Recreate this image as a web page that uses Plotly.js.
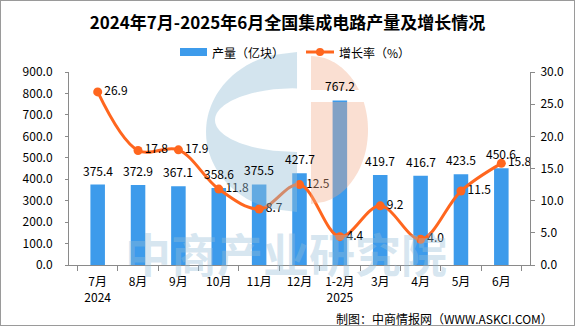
<!DOCTYPE html>
<html>
<head>
<meta charset="utf-8">
<script src="https://cdn.plot.ly/plotly-3.0.1.min.js"></script>
<style>
  html, body { margin: 0; padding: 0; background: #fff; }
  #wrap { position: relative; width: 575px; height: 326px; }
  #chart { width: 575px; height: 326px; }
  #frame { position: absolute; left: 0; top: 0; width: 575px; height: 326px; box-sizing: border-box; border: 1px solid #9a9a9a; pointer-events: none; }
</style>
</head>
<body>
<div id="wrap"><div id="chart"></div><div id="frame"></div></div>
<script>
// ---- data ----
const categories = ['7月<br>2024', '8月', '9月', '10月', '11月', '12月', '1-2月<br>2025', '3月', '4月', '5月', '6月'];
const production = [375.4, 372.9, 367.1, 358.6, 375.5, 427.7, 767.2, 419.7, 416.7, 423.5, 450.6];
const growth = [26.9, 17.8, 17.9, 11.8, 8.7, 12.5, 4.4, 9.2, 4.0, 11.5, 15.8];
const leftTicks = [0, 100, 200, 300, 400, 500, 600, 700, 800, 900];
const rightTicks = [0, 5, 10, 15, 20, 25, 30];

const seriesNames = ['产量（亿块）', '增长率（%）'];
const titleText = '2024年7月-2025年6月全国集成电路产量及增长情况';
const sourceText = '制图：中商情报网（WWW.ASKCI.COM）';
const watermarkText = '中商产业研究院';

// ---- style ----
const BAR = '#3D9BEB';
const LINE = '#FF661E';
const AXIS = '#8a8a8a';
const FONT = '"Noto Sans CJK SC", "Noto Sans", sans-serif';

const W = 575, H = 326;
const M = { l: 69, r: 45, t: 72, b: 61 };
const PW = W - M.l - M.r, PH = H - M.t - M.b;
// pixel -> paper helpers (for decoration only)
const px = x => (x - M.l) / PW;
const py = y => (H - M.b - y) / PH;
const P = (p) => px(p[0]).toFixed(4) + ',' + py(p[1]).toFixed(4);

function arc(cx, cy, rx, ry, y1, y2, side) {
  const pts = [];
  const n = 48;
  for (let i = 0; i <= n; i++) {
    const y = y1 + (y2 - y1) * i / n;
    const t = (y - cy) / ry;
    const x = cx + side * rx * Math.sqrt(Math.max(0, 1 - t * t));
    pts.push([x, y]);
  }
  return pts;
}
function pathOf(pts) { return 'M' + pts.map(P).join('L') + 'Z'; }

// logo watermark geometry
const outer = arc(297, 132, 91, 80, 52, 212, -1);
const inner = arc(297, 120, 82, 32, 88, 152, -1);
const salU = arc(311, 130, 57, 74, 56, 90, 1).concat([[311, 90]]);
const salL = [[311, 102]].concat(arc(311, 130, 57, 74, 102, 204, 1));

const shapes = [
  { type: 'path', xref: 'paper', yref: 'paper', path: pathOf(outer) + ' ' + pathOf(inner), fillrule: 'evenodd',
    fillcolor: 'rgb(150,190,215)', opacity: 0.42, line: { width: 0 }, layer: 'above' },
  { type: 'path', xref: 'paper', yref: 'paper', path: pathOf(salU), fillcolor: 'rgb(242,172,137)', opacity: 0.38, line: { width: 0 }, layer: 'above' },
  { type: 'path', xref: 'paper', yref: 'paper', path: pathOf(salL), fillcolor: 'rgb(242,172,137)', opacity: 0.38, line: { width: 0 }, layer: 'above' },
  // custom legend
  { type: 'rect', xref: 'paper', yref: 'paper', x0: px(180), x1: px(207), y0: py(56), y1: py(48), fillcolor: BAR, line: { width: 0 } },
  { type: 'line', xref: 'paper', yref: 'paper', x0: px(306), x1: px(334), y0: py(52), y1: py(52), line: { color: LINE, width: 3 } },
  { type: 'circle', xref: 'paper', yref: 'paper', x0: px(316), x1: px(324), y0: py(56), y1: py(48), fillcolor: LINE, line: { width: 0 } }
];

const annotations = [];
// bar value labels
categories.forEach((c, i) => {
  annotations.push({ x: c, y: production[i], xref: 'x', yref: 'y', text: production[i].toFixed(1),
    showarrow: false, yanchor: 'bottom', yshift: 4, font: { family: FONT, size: 12, color: '#000' } });
});
annotations.push(
  { xref: 'paper', yref: 'paper', x: px(210), y: py(52), xanchor: 'left', yanchor: 'middle', text: seriesNames[0], showarrow: false, font: { family: FONT, size: 12, color: '#000' } },
  { xref: 'paper', yref: 'paper', x: px(337), y: py(52), xanchor: 'left', yanchor: 'middle', text: seriesNames[1], showarrow: false, font: { family: FONT, size: 12, color: '#000' } },
  { xref: 'paper', yref: 'paper', x: px(555), y: py(318), xanchor: 'right', yanchor: 'middle', text: sourceText, showarrow: false, font: { family: FONT, size: 12, color: '#000' } },
  { xref: 'paper', yref: 'paper', x: px(286), y: py(252), xanchor: 'center', yanchor: 'middle', text: '<b>' + watermarkText + '</b>', showarrow: false,
    font: { family: FONT, size: 46, color: 'rgba(150,190,215,0.38)' } }
);

const traces = [
  { type: 'bar', name: seriesNames[0], x: categories, y: production, width: 0.36,
    marker: { color: BAR }, hoverinfo: 'x+y', showlegend: false },
  { type: 'scatter', name: seriesNames[1], x: categories, y: growth, yaxis: 'y2',
    mode: 'lines+markers+text', line: { color: LINE, width: 3, shape: 'spline', smoothing: 1 },
    marker: { color: LINE, size: 9 }, text: growth.map(v => v.toFixed(1)), textposition: 'middle right',
    textfont: { family: FONT, size: 12, color: '#000' }, cliponaxis: false, showlegend: false }
];

const layout = {
  width: W, height: H, margin: M,
  paper_bgcolor: '#fff', plot_bgcolor: 'rgba(0,0,0,0)',
  font: { family: FONT, size: 12, color: '#000' },
  title: { text: '<b>' + titleText + '</b>', x: 0.5, xref: 'container', y: 1 - 23 / H, yref: 'container',
    xanchor: 'center', yanchor: 'middle', font: { family: FONT, size: 17, color: '#000' } },
  showlegend: false,
  xaxis: { type: 'category', showline: true, linecolor: AXIS, linewidth: 1, ticks: 'outside', tickson: 'boundaries',
    ticklen: 5, tickcolor: AXIS, showgrid: false, zeroline: false, ticklabelstandoff: 6,
    tickfont: { family: FONT, size: 12, color: '#000' } },
  yaxis: { range: [0, 900], tickvals: leftTicks, tickformat: '.1f', showline: true, linecolor: AXIS, ticks: 'outside',
    ticklen: 3, tickcolor: AXIS, showgrid: false, zeroline: false, ticklabelstandoff: 10,
    tickfont: { family: FONT, size: 12, color: '#000' } },
  yaxis2: { range: [0, 30], tickvals: rightTicks, tickformat: '.1f', overlaying: 'y', side: 'right', showline: true,
    linecolor: AXIS, ticks: 'outside', ticklen: 4, tickcolor: AXIS, showgrid: false, zeroline: false, ticklabelstandoff: 3,
    tickfont: { family: FONT, size: 12, color: '#000' } },
  shapes: shapes,
  annotations: annotations,
  bargap: 0.64
};

Plotly.newPlot('chart', traces, layout, { displayModeBar: false, staticPlot: true });
</script>
</body>
</html>
